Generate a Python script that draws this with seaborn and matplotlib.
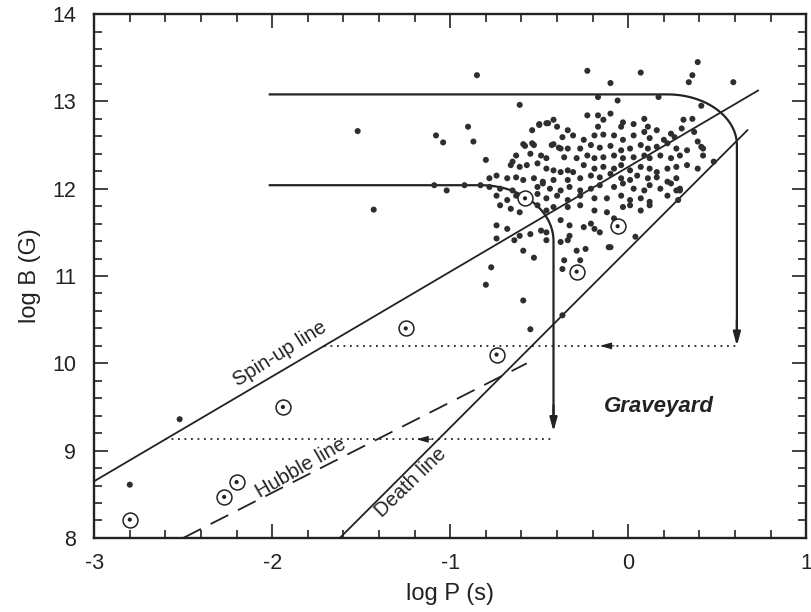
import numpy as np
import matplotlib
matplotlib.use("Agg")
from matplotlib import pyplot as plt
from matplotlib.ticker import MultipleLocator
import seaborn as sns

# ordinary pulsars, (log P, log B)
field_pulsars = [
    (-2.80, 8.61), (-2.52, 9.36), (-1.52, 12.66), (-1.43, 11.76),
    (-1.08, 12.61), (-1.04, 12.53), (-0.90, 12.71), (-0.87, 12.54),
    (-0.85, 13.30), (-0.61, 12.96), (-0.80, 10.90), (-0.77, 11.10),
    (-0.59, 10.72), (-0.55, 10.39), (-0.37, 10.55), (-0.23, 13.35),
    (0.07, 13.33), (0.39, 13.45), (0.36, 13.30), (0.34, 13.22),
    (-0.10, 13.21), (0.59, 13.22), (-0.17, 13.05), (-0.06, 13.01),
    (0.17, 13.05), (0.41, 12.95), (0.48, 12.31), (0.29, 11.98),
    (0.28, 11.87), (0.04, 11.45), (-0.11, 11.33),
]

cluster_top = [
    (-0.42, 12.79), (-0.46, 12.75), (-0.50, 12.73), (-0.17, 12.84),
    (-0.14, 12.79), (-0.10, 12.86), (-0.23, 12.84), (-0.03, 12.76),
    (-0.04, 12.71), (0.03, 12.74), (0.09, 12.80), (0.31, 12.79),
    (0.36, 12.80), (-0.54, 12.67), (-0.34, 12.67), (-0.17, 12.71),
    (0.11, 12.71), (0.16, 12.67), (0.30, 12.69), (0.37, 12.65),
    (-0.37, 12.59), (-0.31, 12.61), (-0.25, 12.56), (-0.19, 12.61),
    (-0.14, 12.62), (-0.08, 12.61), (-0.03, 12.56), (0.03, 12.61),
    (0.09, 12.65), (0.12, 12.58), (0.20, 12.56), (0.26, 12.59),
    (0.24, 12.63), (-0.59, 12.51), (-0.54, 12.52), (-0.42, 12.51),
    (-0.38, 12.46), (-0.34, 12.46), (-0.27, 12.46), (-0.21, 12.50),
    (-0.16, 12.47), (-0.10, 12.49), (-0.04, 12.44), (0.01, 12.46),
    (0.07, 12.50), (0.11, 12.46), (0.16, 12.48), (0.22, 12.52),
    (0.27, 12.46), (0.33, 12.44), (0.39, 12.54), (0.41, 12.48),
    (-0.58, 12.49), (-0.53, 12.50), (-0.50, 12.74), (-0.45, 12.75),
    (-0.40, 12.71), (-0.43, 12.50), (-0.39, 12.47), (0.42, 12.46),
]

cluster_mid = [
    (-0.63, 12.38), (-0.55, 12.40), (-0.49, 12.38), (-0.46, 12.35),
    (-0.36, 12.36), (-0.29, 12.35), (-0.23, 12.38), (-0.19, 12.35),
    (-0.14, 12.36), (-0.08, 12.38), (-0.03, 12.35), (0.03, 12.36),
    (0.09, 12.38), (0.12, 12.35), (0.18, 12.38), (0.24, 12.35),
    (0.29, 12.38), (0.42, 12.38), (-0.80, 12.33), (-0.65, 12.31),
    (-0.66, 12.27), (-0.61, 12.25), (-0.57, 12.27), (-0.51, 12.29),
    (-0.46, 12.23), (-0.42, 12.21), (-0.38, 12.19), (-0.34, 12.21),
    (-0.31, 12.19), (-0.25, 12.27), (-0.19, 12.23), (-0.14, 12.25),
    (-0.08, 12.23), (-0.04, 12.27), (0.01, 12.21), (0.07, 12.25),
    (0.12, 12.23), (0.16, 12.19), (0.22, 12.23), (0.27, 12.25),
    (0.33, 12.27), (0.39, 12.23), (-0.74, 12.15), (-0.78, 12.12),
    (-0.68, 12.12), (-0.63, 12.13), (-0.59, 12.10), (-0.53, 12.12),
    (-0.48, 12.08), (-0.42, 12.10), (-0.34, 12.10), (-0.27, 12.12),
    (-0.21, 12.15), (-0.16, 12.13), (-0.10, 12.17), (-0.04, 12.12),
    (0.01, 12.10), (0.05, 12.15), (0.11, 12.12), (0.16, 12.13),
    (0.22, 12.08), (0.27, 12.12),
]

cluster_low = [
    (-1.09, 12.04), (-1.02, 11.98), (-0.92, 12.04), (-0.83, 12.04),
    (-0.78, 12.02), (-0.72, 12.00), (-0.65, 11.98), (-0.51, 12.02),
    (-0.48, 12.06), (-0.44, 12.00), (-0.38, 11.98), (-0.33, 12.02),
    (-0.27, 11.98), (-0.21, 12.00), (-0.16, 12.04), (-0.08, 12.02),
    (-0.03, 12.06), (0.03, 12.00), (0.09, 11.98), (0.12, 12.04),
    (0.18, 12.00), (0.24, 12.06), (0.29, 12.00), (-0.74, 11.92),
    (-0.68, 11.87), (-0.63, 11.92), (-0.51, 11.94), (-0.46, 11.89),
    (-0.40, 11.92), (-0.34, 11.87), (-0.27, 11.92), (-0.19, 11.89),
    (-0.12, 11.89), (-0.04, 11.92), (0.01, 11.87), (0.07, 11.89),
    (0.12, 11.85), (0.22, 11.92), (0.27, 11.98), (-0.72, 11.81),
    (-0.66, 11.77), (-0.61, 11.73), (-0.51, 11.81), (-0.46, 11.75),
    (-0.42, 11.79), (-0.34, 11.79), (-0.27, 11.81), (-0.19, 11.75),
    (-0.12, 11.73), (-0.03, 11.79), (0.01, 11.81), (0.07, 11.75),
    (0.12, 11.81), (-0.74, 11.58), (-0.68, 11.54), (-0.61, 11.46),
    (-0.55, 11.48), (-0.49, 11.52), (-0.46, 11.50), (-0.38, 11.64),
    (-0.33, 11.58), (-0.25, 11.56), (-0.19, 11.54), (-0.16, 11.50),
    (-0.21, 11.60), (-0.08, 11.66), (-0.74, 11.43), (-0.64, 11.41),
    (-0.46, 11.41), (-0.38, 11.39), (-0.34, 11.41), (-0.33, 11.46),
    (-0.59, 11.29), (-0.53, 11.21), (-0.29, 11.29), (-0.24, 11.31),
    (-0.10, 11.33), (-0.36, 11.18), (-0.27, 11.18), (-0.37, 11.08),
]

# binary / recycled pulsars (circled dots)
binary_logp = [-2.80, -2.27, -2.20, -1.94, -1.25, -0.74, -0.29, -0.06, -0.58]
binary_logb = [8.21, 8.47, 8.64, 9.50, 10.40, 10.10, 11.05, 11.57, 11.89]

# reference lines: log B = b0 + slope * (log P - p0)
spinup_p = [-3.0, 0.73]
spinup_b0, spinup_slope = 8.65, 1.2
death_p = [-1.62, 0.67]
death_b0, death_slope = 8.0, 2.04
hubble_p = [-2.5, -0.57]
hubble_b = [8.0, 10.0]

# evolutionary tracks: start P, field level, corner, drop end, spin-up back
track_start = -2.02
upper_track = dict(b=13.08, corner_p=0.22, drop_p=0.61, corner_b=12.5, end_b=10.2,
                   back_b=10.2, head_p=-0.16)
lower_track = dict(b=12.04, corner_p=-0.83, drop_p=-0.42, corner_b=11.4, end_b=9.22,
                   back_b=9.13, head_p=-1.19)

ink = "#222222"
dot_ink = "#2e2e2e"

sns.set_style("ticks")
plt.rcParams["font.family"] = ["Liberation Sans", "DejaVu Sans"]
plt.rcParams["axes.unicode_minus"] = False

fig = plt.figure(figsize=(8.12, 6.12), dpi=100)
ax = fig.add_axes([0.116, 0.121, 0.877, 0.856])

pts = field_pulsars + cluster_top + cluster_mid + cluster_low
sns.scatterplot(x=[p for p, b in pts], y=[b for p, b in pts], s=19, color=dot_ink,
                edgecolor="none", ax=ax, zorder=3)
sns.scatterplot(x=binary_logp, y=binary_logb, s=115, facecolor="white",
                edgecolor=ink, linewidth=1.1, ax=ax, zorder=4)
sns.scatterplot(x=binary_logp, y=binary_logb, s=9, color=ink, edgecolor="none",
                ax=ax, zorder=5)

sp = np.array(spinup_p)
ax.plot(sp, spinup_b0 + spinup_slope * (sp - sp[0]), color=ink, lw=1.3)
dp = np.array(death_p)
ax.plot(dp, death_b0 + death_slope * (dp - dp[0]), color=ink, lw=1.3)
ax.plot(hubble_p, hubble_b, color=ink, lw=1.3, dashes=(11, 6))

for tr in (upper_track, lower_track):
    t = np.linspace(np.pi / 2, 0, 40)
    rx = tr["drop_p"] - tr["corner_p"]
    ry = tr["b"] - tr["corner_b"]
    px = np.concatenate([[track_start], tr["corner_p"] + rx * np.cos(t), [tr["drop_p"]]])
    py = np.concatenate([[tr["b"]], tr["corner_b"] + ry * np.sin(t), [tr["end_b"] + 0.1]])
    ax.plot(px, py, color=ink, lw=1.6, solid_capstyle="butt")
    ax.annotate("", xy=(tr["drop_p"], tr["end_b"]), xytext=(tr["drop_p"], tr["end_b"] + 0.3),
                arrowprops=dict(arrowstyle="-|>,head_length=0.8,head_width=0.22",
                                color=ink, lw=1.6, shrinkA=0, shrinkB=0))
    back_start = sp[0] + (tr["back_b"] - spinup_b0) / spinup_slope
    ax.plot([back_start, tr["drop_p"]], [tr["back_b"], tr["back_b"]], color=ink,
            lw=1.3, linestyle=(0, (1, 2.6)))
    ax.annotate("", xy=(tr["head_p"], tr["back_b"]), xytext=(tr["head_p"] + 0.08, tr["back_b"]),
                arrowprops=dict(arrowstyle="-|>,head_length=0.7,head_width=0.2",
                                color=ink, lw=0.8, shrinkA=0, shrinkB=0))

ax.text(-1.955, 10.11, "Spin-up line", rotation=32, rotation_mode="anchor",
        ha="center", va="center", fontsize=14.5, color=ink)
ax.text(-1.84, 8.80, "Hubble line", rotation=30, rotation_mode="anchor",
        ha="center", va="center", fontsize=14.5, color=ink)
ax.text(-1.22, 8.63, "Death line", rotation=44, rotation_mode="anchor",
        ha="center", va="center", fontsize=14.5, color=ink)
ax.text(0.17, 9.51, "Graveyard", ha="center", va="center", fontsize=16,
        fontweight="bold", fontstyle="italic", color=ink)

ax.set_xlim(-3, 1)
ax.set_ylim(8, 14)
ax.set_xticks([-3, -2, -1, 0, 1])
ax.set_yticks([8, 9, 10, 11, 12, 13, 14])
ax.xaxis.set_minor_locator(MultipleLocator(0.2))
ax.yaxis.set_minor_locator(MultipleLocator(0.2))
ax.tick_params(which="both", direction="in", top=True, right=True, colors=ink,
               labelsize=15.5, width=1.2)
ax.tick_params(which="major", length=10)
ax.tick_params(which="minor", length=6)
ax.tick_params(axis="x", pad=11)
ax.tick_params(axis="y", pad=13)
for s in ax.spines.values():
    s.set_linewidth(1.7)
    s.set_color(ink)
ax.set_xlabel("log P (s)", fontsize=17, color=ink, labelpad=6)
ax.set_ylabel("log B (G)", fontsize=17, color=ink, labelpad=8)

fig.savefig("out.png", dpi=100)
